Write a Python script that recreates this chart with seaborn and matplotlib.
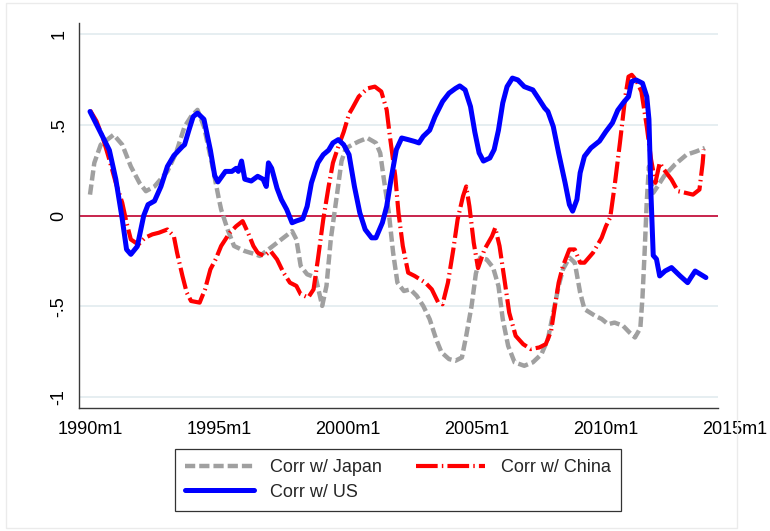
import matplotlib
matplotlib.use("Agg")
import matplotlib.pyplot as plt
import pandas as pd
import seaborn as sns
from matplotlib.patches import Rectangle

# Rolling correlations; months counted from 1990m1
japan_month = [0, 2, 5, 11, 15, 19, 23, 26, 30, 36, 40, 44, 47, 50, 53, 57, 60, 61, 64, 67,
               72, 77, 79, 83, 88, 94, 96, 98, 101, 105, 108, 110, 112, 115, 117, 119, 122,
               125, 129, 133, 135, 136.5, 139, 141, 143, 146, 149, 152, 155, 158, 161, 163.5,
               167, 170, 173, 175, 177.5, 179.5, 181.5, 184.5, 187.5, 190, 192, 194.5, 197.5,
               202, 206, 210, 213, 215.5, 218, 220, 223, 225.5, 228, 230, 235, 238, 241, 244,
               248, 251, 253.5, 256, 257, 258, 259, 260, 262, 264, 267, 272, 277.5, 282, 286]
japan_corr = [0.115, 0.29, 0.39, 0.445, 0.39, 0.27, 0.18, 0.134, 0.16, 0.243, 0.344, 0.49,
              0.545, 0.582, 0.49, 0.27, 0.088, 0.033, -0.077, -0.168, -0.196, -0.214, -0.223,
              -0.187, -0.141, -0.086, -0.132, -0.278, -0.324, -0.342, -0.498, -0.388, -0.132,
              0.125, 0.30, 0.37, 0.39, 0.408, 0.427, 0.40, 0.344, 0.216, 0.015, -0.205, -0.37,
              -0.416, -0.407, -0.443, -0.498, -0.571, -0.681, -0.754, -0.791, -0.80, -0.782,
              -0.663, -0.498, -0.32, -0.232, -0.242, -0.287, -0.388, -0.571, -0.718, -0.809,
              -0.828, -0.809, -0.764, -0.681, -0.535, -0.388, -0.297, -0.232, -0.26, -0.425,
              -0.516, -0.553, -0.57, -0.599, -0.59, -0.608, -0.645, -0.672, -0.62, -0.45,
              -0.20, 0.08, 0.27, 0.125, 0.16, 0.216, 0.28, 0.335, 0.353, 0.372]

china_month = [0, 3, 6, 9, 12, 15, 17, 19, 22.5, 25.5, 29, 32, 36, 39, 40.5, 43, 45, 47, 51,
               53.5, 56, 58.5, 61, 65, 68, 71, 73.5, 76, 78, 81, 84, 87, 90, 93, 96, 98,
               101.5, 104, 106, 108.5, 111, 113, 115.5, 118, 120.5, 122, 125, 129, 132.5,
               135.5, 138, 139.5, 142, 143.5, 145.5, 148, 151, 156, 159, 162, 164, 166.5,
               169, 171, 173.5, 175, 176.5, 178.5, 180.5, 183.5, 187, 188.5, 190.5, 193, 195,
               198, 201.5, 205, 209, 212, 214.5, 216.5, 218, 220, 223, 225.5, 228, 230, 234,
               238, 240, 242, 244, 246.5, 249, 250.5, 252, 254, 256.5, 259, 261, 263, 265,
               267, 270.5, 273.5, 277, 280.5, 283.5, 285, 285.5]
china_corr = [0.58, 0.52, 0.427, 0.308, 0.18, 0.07, -0.04, -0.132, -0.16, -0.123, -0.104,
              -0.095, -0.077, -0.114, -0.205, -0.333, -0.425, -0.471, -0.48, -0.407, -0.297,
              -0.24, -0.168, -0.095, -0.059, -0.031, -0.095, -0.168, -0.205, -0.223, -0.196,
              -0.242, -0.315, -0.37, -0.388, -0.434, -0.452, -0.407, -0.242, -0.022, 0.16,
              0.29, 0.38, 0.46, 0.56, 0.59, 0.655, 0.70, 0.71, 0.683, 0.582, 0.436, 0.216,
              0.015, -0.168, -0.315, -0.333, -0.37, -0.407, -0.48, -0.489, -0.37, -0.187,
              -0.022, 0.106, 0.16, 0.05, -0.15, -0.29, -0.187, -0.114, -0.068, -0.168, -0.37,
              -0.535, -0.663, -0.709, -0.736, -0.727, -0.709, -0.636, -0.48, -0.37, -0.278,
              -0.187, -0.187, -0.26, -0.26, -0.205, -0.123, -0.059, -0.01, 0.16, 0.40, 0.655,
              0.765, 0.775, 0.747, 0.683, 0.49, 0.308, 0.18, 0.29, 0.253, 0.198, 0.134, 0.125,
              0.115, 0.143, 0.29, 0.363]

us_month = [0, 5, 9, 12, 15, 17, 19, 22, 25, 27, 30, 33, 36, 39, 43, 44, 46, 48, 50, 53,
            56, 58, 59.5, 63, 66, 68, 69, 70.5, 72, 75, 78, 80.5, 82, 83, 84.5, 87, 89, 91.5,
            94, 96, 99, 101, 103, 106, 108.5, 111, 113, 115.5, 118, 120.5, 123, 125.5, 128,
            131, 133, 136, 138, 140, 142.5, 145, 148, 151, 153, 155, 158, 160.5, 164, 167,
            170, 172, 174.5, 177, 179, 181, 183, 186, 188, 190, 192, 194, 196.5, 199, 202,
            206, 208.5, 211.5, 213, 215.5, 218, 221, 223, 224.5, 226.5, 228, 230, 233, 237,
            240, 243, 245.5, 248, 250.5, 252, 254, 257, 259, 260, 261, 262, 263.5, 265, 267.5,
            270.5, 274.5, 278, 279.5, 281.5, 284, 286.5]
us_corr = [0.573, 0.455, 0.36, 0.20, -0.02, -0.187, -0.214, -0.17, 0.0, 0.06, 0.08, 0.16,
           0.27, 0.33, 0.38, 0.39, 0.47, 0.545, 0.564, 0.53, 0.36, 0.22, 0.185, 0.243, 0.243,
           0.26, 0.243, 0.30, 0.20, 0.19, 0.216, 0.20, 0.16, 0.29, 0.26, 0.15, 0.088, 0.033,
           -0.04, -0.03, -0.018, 0.05, 0.18, 0.29, 0.335, 0.36, 0.40, 0.418, 0.39, 0.335,
           0.16, 0.015, -0.077, -0.123, -0.123, -0.04, 0.05, 0.198, 0.363, 0.427, 0.418,
           0.408, 0.40, 0.436, 0.47, 0.545, 0.628, 0.674, 0.70, 0.714, 0.692, 0.60, 0.46,
           0.345, 0.30, 0.317, 0.363, 0.47, 0.62, 0.71, 0.757, 0.747, 0.71, 0.692, 0.647,
           0.592, 0.573, 0.49, 0.344, 0.18, 0.06, 0.024, 0.088, 0.235, 0.326, 0.372, 0.41,
           0.463, 0.51, 0.58, 0.62, 0.655, 0.738, 0.747, 0.729, 0.655, 0.53, 0.10, -0.22,
           -0.24, -0.333, -0.306, -0.287, -0.333, -0.37, -0.342, -0.306, -0.324, -0.342]

xtick_months = [0, 60, 120, 180, 240, 300]
xtick_labels = ["1990m1", "1995m1", "2000m1", "2005m1", "2010m1", "2015m1"]
ytick_values = [-1, -0.5, 0, 0.5, 1]
ytick_labels = ["-1", "-.5", "0", ".5", "1"]
grid_values = [-1, -0.5, 0.5, 1]

sns.set_theme(style="white")
plt.rcParams["font.family"] = ["Liberation Sans", "DejaVu Sans"]

W, H = 770, 531
fig = plt.figure(figsize=(W / 100, H / 100), dpi=100)
fig.patch.set_facecolor("white")
fig.patches.append(Rectangle((6 / W, 3 / H), 731 / W, 525 / H, transform=fig.transFigure,
                             fill=False, edgecolor="#ebebeb", lw=1.0))

ax = fig.add_axes([79 / W, 1 - 408 / H, (736 - 79) / W, (408 - 23) / H])
x_lo, x_hi, x_end = -5.12, 300.5, 292.1
ax.set_xlim(x_lo, x_hi)
ax.set_ylim(-1.0606, 1.0606)

ax.hlines(grid_values, x_lo, x_end, color="#e6eef1", lw=1.4, zorder=0.5)
ax.hlines(0, x_lo, x_end, color="#c4123e", lw=1.3, zorder=1)

series = [
    ("Corr w/ Japan", japan_month, japan_corr, "#a0a0a0", 3.2, (2.3, 0.9)),
    ("Corr w/ China", china_month, china_corr, "#ff0000", 3.0, (5.2, 1.0, 0.35, 1.0)),
    ("Corr w/ US", us_month, us_corr, "#0000ff", 3.6, None),
]
lines = {}
for i, (name, months, corr, color, lw, dash) in enumerate(series):
    df = pd.DataFrame({"month": months, "corr": corr})
    sns.lineplot(data=df, x="month", y="corr", ax=ax, color=color, lw=lw,
                 estimator=None, sort=False, legend=False, zorder=2 + i)
    ln = ax.lines[-1]
    if dash is not None:
        ln.set_dashes(dash)
    ln.set_solid_joinstyle("round")
    lines[name] = ln

for side in ["top", "right"]:
    ax.spines[side].set_visible(False)
for side in ["left", "bottom"]:
    ax.spines[side].set_color("#3a3a3a")
    ax.spines[side].set_linewidth(1.0)
ax.spines["bottom"].set_bounds(x_lo, x_end)

ax.set_xticks(xtick_months)
ax.set_xticklabels(xtick_labels)
ax.set_yticks(ytick_values)
ax.set_yticklabels(ytick_labels, rotation=90, va="center")
ax.tick_params(axis="both", direction="out", length=5, width=1.0, color="#3a3a3a",
               labelsize=13, labelcolor="black", pad=3.5)
ax.tick_params(axis="x", pad=4.5)
ax.set_xlabel("")
ax.set_ylabel("")
ax.grid(False)

order = ["Corr w/ Japan", "Corr w/ US", "Corr w/ China"]
leg = ax.legend([lines[k] for k in order], order, ncol=2, loc="center",
                bbox_to_anchor=(398 / W, 1 - 480 / H), bbox_transform=fig.transFigure,
                frameon=True, fancybox=False, shadow=False, edgecolor="black",
                handlelength=3.8, handletextpad=0.9, columnspacing=1.9,
                borderpad=0.55, labelspacing=0.4, fontsize=13, borderaxespad=0)
leg.get_frame().set_linewidth(0.9)

fig.savefig("out.png", dpi=100, facecolor="white")
